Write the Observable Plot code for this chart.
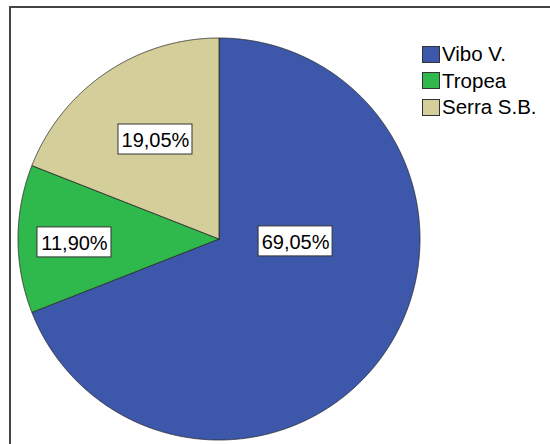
<!DOCTYPE html>
<html>
<head>
<meta charset="utf-8">
<script src="https://cdn.jsdelivr.net/npm/d3@7"></script>
<script src="https://cdn.jsdelivr.net/npm/@observablehq/plot@0.6"></script>
<style>
  html, body { margin: 0; padding: 0; background: #fff; overflow: hidden; }
  #wrap { position: relative; width: 550px; height: 444px; overflow: hidden; font-family: "Liberation Sans", Arial, sans-serif; }
  #frame { position: absolute; left: 9px; top: 6px; width: 600px; height: 500px; border-left: 2px solid #444; border-top: 2px solid #444; box-sizing: border-box; }
  #chart { position: absolute; left: 0; top: 0; }
  #legend { position: absolute; left: 422px; top: 41px; font-size: 20.5px; color: #000; }
  .item { display: flex; align-items: center; height: 26.5px; }
  .sw { width: 18px; height: 17px; border: 1px solid #333; margin-right: 2px; box-sizing: border-box; }
</style>
</head>
<body>
<div id="wrap">
  <div id="frame"></div>
  <div id="chart"></div>
  <div id="legend"></div>
</div>
<script>
const categories = ["Vibo V.", "Tropea", "Serra S.B."];
const percents = [69.05, 11.90, 19.05];
const labels = ["69,05%", "11,90%", "19,05%"];
const colors = ["#3d57aa", "#2fb84c", "#d4cf9a"];

// layout (label box centres, in units of the pie radius)
const labelPos = [[0.381, -0.012], [-0.719, -0.017], [-0.316, 0.495]];
const cx = 218.5, cy = 238.5, r = 201;

const data = categories.map((c, i) => ({category: c, value: percents[i], label: labels[i]}));
const arcs = d3.pie().sort(null).value(d => d.value).startAngle(0).endAngle(2 * Math.PI)(data);

const pts = [];
arcs.forEach(a => {
  const c = a.data.category;
  pts.push({category: c, x: 0, y: 0});
  const n = Math.max(2, Math.ceil((a.endAngle - a.startAngle) / (Math.PI / 720)));
  for (let k = 0; k <= n; k++) {
    const t = a.startAngle + (a.endAngle - a.startAngle) * k / n;
    pts.push({category: c, x: Math.sin(t), y: Math.cos(t)});
  }
  pts.push({category: c, x: 0, y: 0});
});

const labelData = data.map((d, i) => ({...d, lx: labelPos[i][0], ly: labelPos[i][1]}));

const chart = Plot.plot({
  width: 550,
  height: 444,
  margin: 0,
  x: {domain: [-1, 1], range: [cx - r, cx + r], axis: null},
  y: {domain: [-1, 1], range: [cy + r, cy - r], axis: null},
  color: {domain: categories, range: colors},
  style: {background: "transparent"},
  marks: [
    Plot.line(pts, {x: "x", y: "y", z: "category", fill: "category", stroke: "#2a2a2a", strokeWidth: 0.8, strokeLinejoin: "round"}),
    Plot.rect(labelData, {x1: "lx", x2: "lx", y1: "ly", y2: "ly", insetLeft: -37, insetRight: -37, insetTop: -15, insetBottom: -15, fill: "white", stroke: "#333", strokeWidth: 1}),
    Plot.text(labelData, {x: "lx", y: "ly", text: "label", fontSize: 20, fill: "black", fontFamily: "Liberation Sans, Arial, sans-serif", dy: 1})
  ]
});
document.getElementById("chart").appendChild(chart);

const legend = document.getElementById("legend");
categories.forEach((c, i) => {
  const item = document.createElement("div");
  item.className = "item";
  const sw = document.createElement("div");
  sw.className = "sw";
  sw.style.background = colors[i];
  const t = document.createElement("span");
  t.textContent = c;
  item.appendChild(sw);
  item.appendChild(t);
  legend.appendChild(item);
});
</script>
</body>
</html>
